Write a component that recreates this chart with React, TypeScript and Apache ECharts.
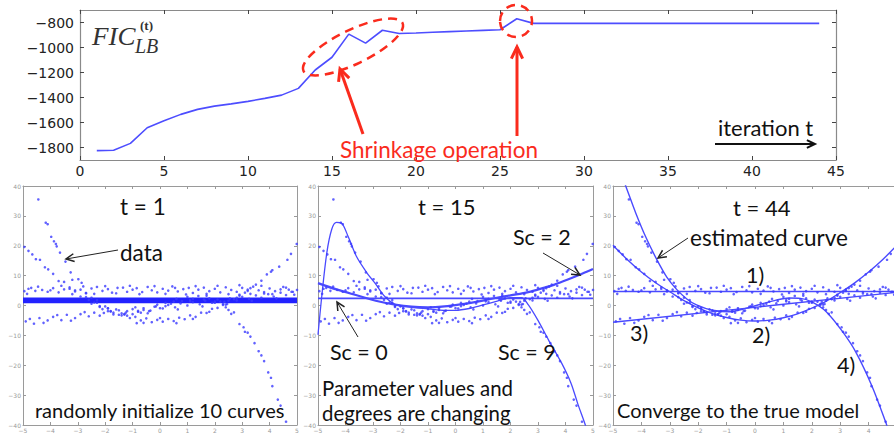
import React, { useEffect, useRef } from "react";
import * as echarts from "echarts";

// ---------- top chart data ----------
const iterations = [
  1, 2, 3, 4, 5, 6, 7, 8, 9, 10, 11, 12, 13, 14, 15, 16, 17, 18, 19, 20, 21, 22,
  23, 24, 25, 26, 27, 28, 29, 30, 31, 32, 33, 34, 35, 36, 37, 38, 39, 40, 41, 42, 43, 44,
];
const ficValues = [
  -1825, -1822, -1767, -1642, -1586, -1535, -1495, -1469, -1451, -1431, -1407, -1381, -1327,
  -1180, -1078, -893, -965, -862, -888, -884, -878, -873, -868, -863, -858, -770, -807,
  -807, -807, -807, -807, -807, -807, -807, -807, -807, -807, -807, -807, -807, -807, -807, -807, -807,
];
const topYTickValues = [-1800, -1600, -1400, -1200, -1000, -800];

// ---------- data points ----------
const model1Points: number[][] = [
  [-4.95, 4.8], [-4.8, 5.6], [-4.7, 5.9], [-4.55, 4.9], [-4.3, 5.2], [-4.1, 4.6], [-3.9, 5.8],
  [-3.7, 4.4], [-3.5, 5.4], [-3.3, 6.1], [-3.1, 4.7], [-2.9, 5.3], [-2.7, 4.1], [-2.5, 5.7],
  [-2.3, 6.2], [-2.1, 4.9], [-1.9, 5.5], [-1.75, 4.3], [-1.55, 5.9], [-1.35, 6.0], [-1.2, 4.6],
  [-1.0, 5.3], [-0.85, 5.8], [-0.65, 4.5], [-0.45, 6.2], [-0.3, 5.1], [-0.1, 4.4], [0.1, 5.6],
  [0.3, 5.0], [0.45, 6.4], [0.65, 4.7], [0.85, 5.5], [1.05, 5.9], [1.2, 4.2], [1.4, 5.3],
  [1.6, 6.0], [1.8, 4.8], [2.0, 5.6], [2.2, 4.4], [2.4, 6.1], [2.6, 5.2], [2.8, 4.6], [3.0, 5.9],
  [3.2, 4.9], [3.4, 6.3], [3.6, 5.1], [3.8, 4.5], [4.0, 5.7], [4.2, 4.8], [4.4, 5.4], [4.6, 6.0],
  [4.8, 4.6], [5.0, 5.2],
  [-4.85, 3.9], [-4.45, 6.3], [-4.0, 5.1], [-3.6, 6.6], [-3.2, 3.8], [-2.8, 6.4], [-2.4, 3.9],
  [-2.0, 6.5], [-1.6, 4.1], [-1.1, 6.6], [-0.75, 3.8], [-0.2, 6.5], [0.2, 3.9], [0.55, 5.9],
  [0.95, 3.7], [1.3, 6.5], [1.7, 3.9], [2.1, 6.6], [2.5, 3.8], [2.9, 6.8], [3.3, 3.9], [3.7, 6.6],
  [4.1, 3.8], [4.5, 6.2], [4.9, 3.6],
];
const model2Points: number[][] = [
  [-4.95, 19.6], [-4.8, 18.3], [-4.66, 17.1], [-4.53, 15.5], [-4.38, 15.3], [-4.2, 12.8],
  [-4.08, 12.1], [-3.9, 10.6], [-3.7, 8.2], [-3.5, 7.9], [-3.3, 5.6], [-3.1, 5.1], [-2.9, 3.0],
  [-2.7, 2.8], [-2.5, 0.6], [-2.3, 0.9], [-2.1, -1.2], [-1.9, -0.9], [-1.7, -2.4], [-1.5, -3.1],
  [-1.3, -3.0], [-1.1, -4.2], [-0.9, -3.8], [-0.85, -5.9], [-0.7, -5.0], [-0.5, -4.3], [-0.3, -5.6],
  [-0.1, -4.8], [0.1, -5.4], [0.3, -4.5], [0.5, -5.2], [0.7, -4.1], [0.9, -4.6], [1.1, -3.3],
  [1.3, -3.8], [1.5, -2.4], [1.7, -2.5], [1.9, -1.1], [2.1, -0.8], [2.3, 0.5], [2.5, 1.6],
  [2.7, 2.1], [2.9, 3.6], [3.1, 4.3], [3.3, 5.8], [3.5, 7.0], [3.7, 8.3], [3.9, 10.4], [4.05, 11.3],
  [4.1, 11.8], [4.35, 13.0], [4.65, 15.3], [4.78, 17.3], [4.99, 20.6],
  [-2.6, 1.9], [-2.2, -0.2], [-1.8, -2.0], [-1.2, -3.4], [-0.6, -5.8], [0.0, -4.2], [0.6, -5.9],
  [1.2, -4.5], [1.8, -2.1], [2.4, 0.3], [2.8, 2.6], [3.2, 5.3],
];
const model3Points: number[][] = [
  [-4.9, -5.3], [-4.6, -6.1], [-4.4, -4.2], [-4.1, -5.0], [-3.9, -3.8], [-3.6, -4.9], [-3.4, -3.1],
  [-3.1, -4.2], [-2.9, -2.9], [-2.6, -3.6], [-2.4, -2.4], [-2.2, -3.4], [-1.9, -1.9], [-1.7, -3.0],
  [-1.5, -1.6], [-1.25, -2.4], [-1.0, -1.2], [-0.8, -2.1], [-0.6, -0.9], [-0.35, -1.7], [-0.15, -0.3],
  [0.1, -1.0], [0.3, 0.2], [0.55, -0.6], [0.75, 0.7], [1.0, 0.0], [1.2, 1.1], [1.45, 0.4],
  [1.65, 1.6], [1.9, 0.9], [2.1, 2.0], [2.35, 1.2], [2.55, 2.4], [2.8, 1.7], [3.0, 2.9], [3.25, 2.2],
  [3.5, 3.4], [3.7, 2.6], [3.95, 3.8], [4.15, 3.0], [4.4, 4.3], [4.6, 3.5], [4.85, 4.6],
  [-4.75, -4.5], [-4.25, -5.8], [-3.75, -3.2], [-3.25, -5.1], [-2.75, -2.2], [-2.05, -2.5],
  [-1.4, -3.3], [-0.9, -0.6], [-0.45, -2.6], [0.2, -0.2], [0.65, -1.3], [1.1, 1.4], [1.55, -0.3],
  [2.0, 1.3], [2.45, 0.5], [2.9, 3.3], [3.35, 1.6], [3.8, 4.0], [4.25, 2.4], [4.7, 5.3],
];
const model4Points: number[][] = [
  [-4.44, 35.5], [-4.17, 27.7], [-4.1, 27.2], [-3.97, 23.0], [-3.87, 21.5], [-3.8, 20.6],
  [-3.77, 19.8], [-3.65, 17.7], [-3.45, 14.7], [-3.26, 11.1], [-3.2, 8.6], [-2.98, 8.8],
  [-2.86, 7.6], [-2.7, 4.2], [-2.5, 2.6], [-2.3, 1.8], [-2.2, -0.5], [-2.0, -0.3], [-1.8, -1.9],
  [-1.6, -1.3], [-1.4, -2.6], [-1.2, -1.9], [-1.0, -2.9], [-0.8, -1.8], [-0.6, -1.5], [-0.4, -1.9],
  [-0.2, -0.4], [0.0, -0.9], [0.2, 0.9], [0.4, 0.6], [0.6, 2.2], [0.8, 1.5], [1.0, 2.9], [1.2, 2.2],
  [1.4, 3.2], [1.6, 2.0], [1.8, 2.4], [2.0, 0.9], [2.2, 1.3], [2.4, -0.6], [2.5, -1.5], [2.7, -2.3],
  [2.9, -6.2], [3.05, -7.3], [3.1, -8.8], [3.3, -10.4], [3.45, -12.6], [3.6, -15.3], [3.8, -18.6],
  [3.95, -22.4], [4.05, -24.2], [4.1, -27.0], [4.3, -31.5], [4.4, -33.5], [4.6, -38.9],
  [-2.4, 1.0], [-1.9, -1.0], [-1.3, -2.9], [-0.7, -2.4], [-0.1, 0.3], [0.5, 1.3], [1.1, 1.8],
  [1.7, 3.3], [2.3, 0.2], [2.6, -2.8], [3.2, -9.1], [3.7, -16.7],
];

// ---------- curves ----------
const initCurveLevels = [1.0, 1.2, 1.3, 1.5, 1.6, 1.8, 1.9, 2.1, 2.2, 2.4];
const sc0Curve: number[][] = [[-5, 2.4], [5, 2.4]];
const sc2Curve: number[][] = [
  [-5, 7.5], [-4.3, 5.3], [-3.5, 3.2], [-2.9, 1.6], [-2.2, 0.3], [-1.6, -0.4], [-1, -0.6],
  [-0.4, -0.3], [0.2, 0.4], [0.8, 1.3], [1.45, 2.5], [2.0, 3.4], [2.65, 4.5], [3.2, 5.9],
  [3.6, 7.0], [4.2, 9.1], [4.6, 10.6], [5, 12.2],
];
const sc9Curve: number[][] = [
  [-5, -9.8], [-4.87, 2.5], [-4.68, 17.6], [-4.5, 25.5], [-4.33, 27.8], [-4.15, 27.6],
  [-3.9, 23.0], [-3.6, 16.4], [-3.24, 11.2], [-2.88, 6.9], [-2.57, 3.0], [-2.2, 0.4],
  [-1.6, -0.6], [-1.0, -1.1], [-0.4, -1.6], [0, -1.6], [0.5, -1.0], [1.0, 0.2], [1.45, 1.3],
  [2.0, 2.6], [2.4, 2.6], [2.65, 0.2], [3.0, -5.0], [3.38, -11.5], [3.86, -19.3],
  [4.2, -26.0], [4.45, -33.0], [4.7, -39.4], [4.8, -42.5],
];
const trueCurve1: number[][] = [[-5, 4.7], [5, 4.7]];
const trueCurve2: number[][] = [
  [-5, 20.2], [-4.5, 15.4], [-4, 11.2], [-3.5, 7.6], [-3, 4.6], [-2.5, 1.6], [-2, -0.8],
  [-1.5, -2.7], [-1, -4.0], [-0.5, -4.9], [0, -5.2], [0.5, -4.9], [1, -4.1], [1.5, -2.8],
  [2, -0.9], [2.5, 1.4], [3, 4.3], [3.5, 7.5], [4, 11.2], [4.5, 15.4], [5, 20.2],
];
const trueCurve3: number[][] = [[-5, -5.6], [5, 4.4]];
const trueCurve4: number[][] = [
  [-4.65, 42.5], [-4.52, 39.2], [-4.2, 31.0], [-3.85, 23.0], [-3.47, 15.6], [-3.1, 9.4],
  [-2.76, 5.4], [-2.4, 2.2], [-2.06, 0.2], [-1.5, -1.6], [-0.9, -2.1], [-0.3, -0.9],
  [0.3, 0.7], [0.74, 1.8], [1.2, 2.5], [1.6, 2.4], [2.0, 1.2], [2.5, -2.0], [3.07, -8.6],
  [3.55, -15.6], [4.12, -27.0], [4.6, -39.0], [4.7, -42.0],
];

const BLUE_PT = "#3b3bff";
const BLUE_LN = "#4a4aff";
const RED = "#fa2b1d";
const TXT_FONT = "Lato, 'Open Sans', sans-serif";

const minusFmt = (v: number) => String(v).replace("-", "\u2212");

function arrowHead(x1: number, y1: number, x2: number, y2: number, len: number, spread: number) {
  const a = Math.atan2(y2 - y1, x2 - x1);
  return [
    [x2 - len * Math.cos(a - spread), y2 - len * Math.sin(a - spread)],
    [x2, y2],
    [x2 - len * Math.cos(a + spread), y2 - len * Math.sin(a + spread)],
  ];
}

function arrow(x1: number, y1: number, x2: number, y2: number, color: string, w: number, headLen: number, headW: number) {
  return [
    { type: "line", shape: { x1, y1, x2, y2 }, style: { stroke: color, lineWidth: w }, z: 100 },
    {
      type: "polyline",
      shape: { points: arrowHead(x1, y1, x2, y2, headLen, 0.45) },
      style: { stroke: color, lineWidth: headW, fill: null, lineJoin: "miter" },
      z: 100,
    },
  ];
}

function label(text: string, x: number, y: number, size: number, color = "#111", extra: any = {}) {
  return {
    type: "text",
    x,
    y,
    z: 100,
    style: {
      text,
      fill: color,
      fontSize: size,
      fontFamily: TXT_FONT,
      textAlign: "left",
      textVerticalAlign: "middle",
      ...extra,
    },
  };
}

export default function App() {
  const ref = useRef<HTMLDivElement>(null);

  useEffect(() => {
    if (!ref.current) return;
    const chart = echarts.init(ref.current, undefined, { renderer: "svg" });

    const frameColor = "#8a8a8a";
    const panelFrame = "#9a9a9a";

    const grids: any[] = [
      { left: 80, top: 10, width: 756, height: 150, outerBoundsMode: "none" },
      { left: 23, top: 186, width: 274, height: 239, outerBoundsMode: "none" },
      { left: 318, top: 186, width: 275, height: 239, outerBoundsMode: "none" },
      { left: 613, top: 186, width: 284, height: 239, outerBoundsMode: "none" },
    ];

    const xAxes: any[] = [];
    const yAxes: any[] = [];

    // top chart axes
    xAxes.push({
      gridIndex: 0, type: "value", min: 0, max: 45, interval: 5, position: "bottom",
      axisLine: { show: true, onZero: false, lineStyle: { color: frameColor, width: 1.2 } },
      axisTick: { show: true, inside: true, length: 4, lineStyle: { color: "#444" } },
      axisLabel: { fontSize: 14, color: "#222", fontFamily: "'DejaVu Sans', sans-serif", margin: 4, lineHeight: 14 },
      splitLine: { show: false },
    });
    xAxes.push({
      gridIndex: 0, type: "value", min: 0, max: 45, interval: 5, position: "top",
      axisLine: { show: true, onZero: false, lineStyle: { color: frameColor, width: 1.2 } },
      axisTick: { show: true, inside: true, length: 4, lineStyle: { color: "#444" } },
      axisLabel: { show: false }, splitLine: { show: false },
    });
    yAxes.push({
      gridIndex: 0, type: "value", min: -1900, max: -700, position: "left",
      axisLine: { show: true, onZero: false, lineStyle: { color: frameColor, width: 1.2 } },
      axisTick: { show: true, inside: true, length: 4, customValues: topYTickValues, lineStyle: { color: "#444" } },
      axisLabel: {
        fontSize: 14, color: "#222", fontFamily: "'DejaVu Sans', sans-serif", margin: 6,
        customValues: topYTickValues, formatter: minusFmt,
      },
      splitLine: { show: false },
    });
    yAxes.push({
      gridIndex: 0, type: "value", min: -1900, max: -700, position: "right",
      axisLine: { show: true, onZero: false, lineStyle: { color: frameColor, width: 1.2 } },
      axisTick: { show: true, inside: true, length: 4, customValues: topYTickValues, lineStyle: { color: "#444" } },
      axisLabel: { show: false }, splitLine: { show: false },
    });

    // bottom panel axes
    for (let g = 1; g <= 3; g++) {
      const common = {
        gridIndex: g, type: "value",
        axisLine: { show: true, onZero: false, lineStyle: { color: panelFrame, width: 1 } },
        axisTick: { show: true, inside: true, length: 3, lineStyle: { color: panelFrame } },
        splitLine: { show: false },
      };
      xAxes.push({
        ...common, min: -5, max: 5, interval: 1, position: "bottom",
        axisLabel: {
          fontSize: 6, color: "#999", margin: 2, fontFamily: "'DejaVu Sans', sans-serif",
          // the last panel is cut off by the picture's right edge, so its "5" is not visible
          formatter: (v: number) => (g === 3 && v === 5 ? "" : minusFmt(v)),
        },
      });
      xAxes.push({ ...common, min: -5, max: 5, interval: 1, position: "top", axisLabel: { show: false } });
      yAxes.push({
        ...common, min: -40, max: 40, interval: 10, position: "left",
        axisLabel: { fontSize: 6, color: "#999", margin: 2, formatter: minusFmt, fontFamily: "'DejaVu Sans', sans-serif" },
      });
      yAxes.push({ ...common, min: -40, max: 40, interval: 10, position: "right", axisLabel: { show: false } });
    }

    const series: any[] = [];
    series.push({
      type: "line", xAxisIndex: 0, yAxisIndex: 0, showSymbol: false, symbol: "none",
      data: iterations.map((t, i) => [t, ficValues[i]]),
      lineStyle: { color: "#4d4dff", width: 1.6 },
    });

    const allPoints = [...model1Points, ...model2Points, ...model3Points, ...model4Points];
    const lineSeries = (g: number, data: number[][], width: number, smooth: number | boolean = 0.35) => ({
      type: "line", xAxisIndex: 2 * g, yAxisIndex: 2 * g, data, smooth, symbol: "none",
      lineStyle: { color: BLUE_LN, width }, clip: true, z: 3,
    });

    for (let g = 1; g <= 3; g++) {
      series.push({
        type: "scatter", xAxisIndex: 2 * g, yAxisIndex: 2 * g, data: allPoints,
        symbol: "circle", symbolSize: 2.6, itemStyle: { color: BLUE_PT }, z: 4, clip: true,
      });
    }
    // panel 1: ten initial flat curves
    initCurveLevels.forEach((lv) => {
      series.push({
        type: "line", xAxisIndex: 2, yAxisIndex: 2, data: [[-5, lv], [5, lv]], symbol: "none",
        lineStyle: { color: "#2323ff", width: 1.6 }, z: 3,
      });
    });
    // panel 2
    series.push(lineSeries(2, sc0Curve, 1.6, false));
    series.push(lineSeries(2, sc2Curve, 2.2));
    series.push(lineSeries(2, sc9Curve, 1.3, 0.3));
    // panel 3
    series.push(lineSeries(3, trueCurve1, 1.5, false));
    series.push(lineSeries(3, trueCurve2, 1.4));
    series.push(lineSeries(3, trueCurve3, 1.4, false));
    series.push(lineSeries(3, trueCurve4, 1.4, 0.3));

    const graphics: any[] = [
      // FIC label
      {
        type: "text", x: 92, y: 37, z: 100, scaleX: 1.08,
        style: { text: "FIC", fill: "#333", fontSize: 25, fontStyle: "italic", fontFamily: "'Liberation Serif', serif", textAlign: "left", textVerticalAlign: "middle" },
      },
      {
        type: "text", x: 135, y: 46, z: 100,
        style: { text: "LB", fill: "#333", fontSize: 20, fontStyle: "italic", fontFamily: "'Liberation Serif', serif", textAlign: "left", textVerticalAlign: "middle" },
      },
      {
        type: "text", x: 140, y: 25, z: 100,
        style: { text: "(t)", fill: "#333", fontSize: 13, fontWeight: "bold", fontFamily: "'Liberation Serif', serif", textAlign: "left", textVerticalAlign: "middle" },
      },
      // red dashed ellipses
      {
        type: "ellipse", x: 353, y: 47, rotation: 0.45, z: 100,
        shape: { cx: 0, cy: 0, rx: 55, ry: 17 },
        style: { fill: null, stroke: RED, lineWidth: 2.5, lineDash: [9, 6] },
      },
      {
        type: "ellipse", x: 516, y: 21, z: 100,
        shape: { cx: 0, cy: 0, rx: 16, ry: 16 },
        style: { fill: null, stroke: RED, lineWidth: 2.5, lineDash: [9, 6] },
      },
      ...arrow(363, 134, 340, 69, RED, 3, 13, 3),
      ...arrow(517, 136, 517, 47, RED, 3, 13, 3),
      label("Shrinkage operation", 340, 149, 22.5, RED, { lineHeight: 19 }),
      label("iteration t", 718, 127, 22),
      ...arrow(715, 144, 815, 144, "#111", 2, 9, 2),
      // panel 1
      label("t = 1", 120, 206, 22.5),
      label("data", 120, 252, 22.5),
      ...arrow(118, 250, 66, 259, "#222", 1, 9, 1.5),
      label("randomly initialize 10 curves", 35, 410, 20),
      // panel 2
      label("t = 15", 418, 206, 22),
      label("Sc = 2", 513, 237, 21.5),
      ...arrow(543, 253, 580, 275, "#222", 1, 9, 1.5),
      label("Sc = 0", 330, 352, 21.5),
      ...arrow(358, 337, 337, 302, "#222", 1, 9, 1.5),
      label("Sc = 9", 498, 352, 21.5),
      label("Parameter values and", 322, 388, 20.4),
      label("degrees are changing", 322, 413, 20.4),
      // panel 3
      label("t = 44", 733, 207, 22),
      label("estimated curve", 690, 237, 22.5),
      ...arrow(688, 238, 658, 258, "#222", 1, 9, 1.5),
      label("1)", 746, 275, 21.5),
      label("3)", 630, 333, 21.5),
      label("2)", 752, 335, 21.5),
      label("4)", 837, 365, 21.5),
      label("Converge to the true model", 617, 410, 20),
    ];

    chart.setOption({
      animation: false,
      backgroundColor: "#ffffff",
      grid: grids,
      xAxis: xAxes,
      yAxis: yAxes,
      series,
      graphic: { elements: graphics },
    });

    return () => chart.dispose();
  }, []);

  return (
    <div
      ref={ref}
      style={{ position: "absolute", left: 0, top: 0, width: 894, height: 433, background: "#fff" }}
    />
  );
}
